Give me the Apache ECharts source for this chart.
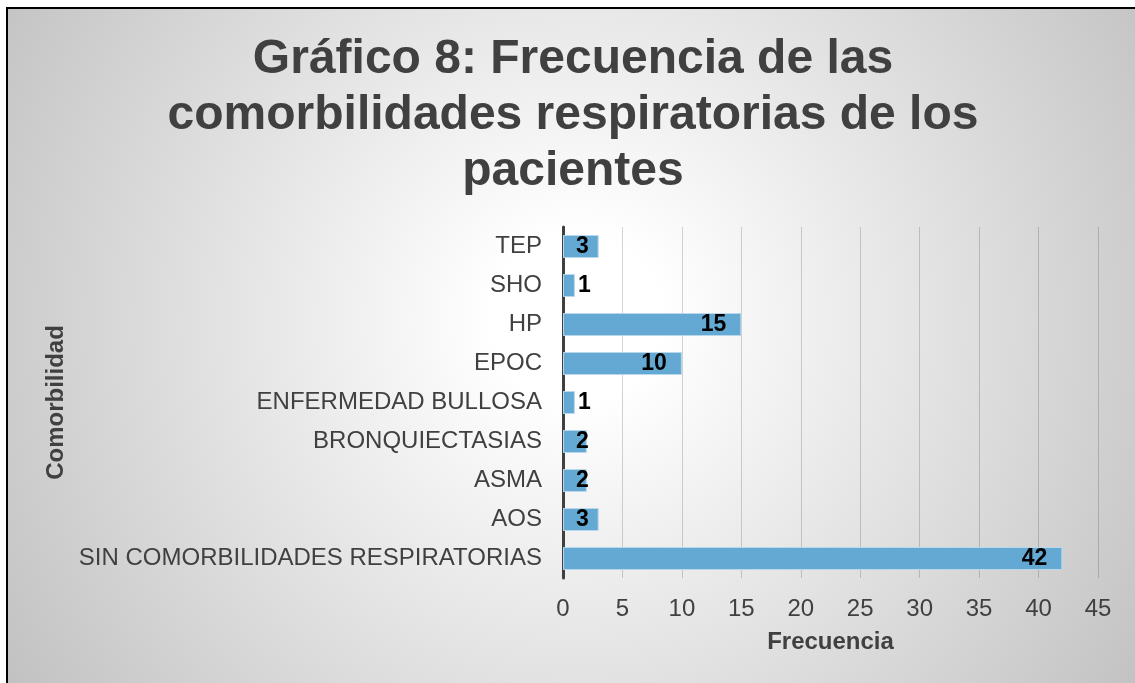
<!DOCTYPE html>
<html>
<head>
<meta charset="utf-8">
<script src="https://cdn.jsdelivr.net/npm/echarts@6/dist/echarts.min.js"></script>
<style>
  html, body { margin: 0; padding: 0; background: #fff; }
  #chart { width: 1135px; height: 683px; }
</style>
</head>
<body>
<div id="chart"></div>
<script>
// categorias de arriba hacia abajo
var categorias = ['TEP', 'SHO', 'HP', 'EPOC', 'ENFERMEDAD BULLOSA', 'BRONQUIECTASIAS', 'ASMA', 'AOS', 'SIN COMORBILIDADES RESPIRATORIAS'];
var frecuencia = [3, 1, 15, 10, 1, 2, 2, 3, 42];
var ticksX = [0, 5, 10, 15, 20, 25, 30, 35, 40, 45];

var chart = echarts.init(document.getElementById('chart'));

// etiquetas: barras pequeñas llevan el numero al inicio o fuera
var datos = frecuencia.map(function (v) {
  var item = { value: v };
  if (v <= 1) {
    item.label = { position: 'right', distance: 3 };
  } else if (v <= 3) {
    item.label = { position: 'insideLeft', distance: 13 };
  }
  return item;
});

var option = {
  backgroundColor: '#ffffff',
  textStyle: { fontFamily: 'Liberation Sans, Arial, sans-serif' },
  graphic: [{
    type: 'rect',
    z: -10,
    silent: true,
    shape: { x: 7, y: 8, width: 1140, height: 690 },
    style: {
      stroke: '#000',
      lineWidth: 2,
      fill: {
        type: 'radial', x: 0.5, y: 0.45, r: 1.0,
        colorStops: [
          { offset: 0, color: '#ffffff' },
          { offset: 0.12, color: '#ffffff' },
          { offset: 1, color: '#c0c0c0' }
        ]
      }
    }
  }],
  title: {
    text: 'Gráfico 8: Frecuencia de las\ncomorbilidades respiratorias de los\npacientes',
    left: 568,
    top: 27,
    textAlign: 'center',
    textStyle: {
      fontFamily: 'Liberation Sans, Arial, sans-serif',
      fontSize: 48,
      fontWeight: 'bold',
      color: '#404040',
      lineHeight: 56
    }
  },
  grid: {
    left: 563,
    right: 37,
    top: 227,
    bottom: 105,
    containLabel: false
  },
  xAxis: {
    type: 'value',
    min: 0,
    max: 45,
    interval: 5,
    name: 'Frecuencia',
    nameLocation: 'middle',
    nameGap: 52,
    nameTextStyle: { fontSize: 24, fontWeight: 'bold', color: '#404040' },
    axisLine: { show: false },
    axisTick: { show: false },
    axisLabel: {
      fontSize: 24,
      color: '#404040',
      margin: 19,
      formatter: function (v) { return ticksX.indexOf(v) >= 0 ? String(v) : ''; }
    },
    splitLine: { show: true, lineStyle: { color: 'rgba(0,0,0,0.17)', width: 1 } }
  },
  yAxis: {
    type: 'category',
    inverse: true,
    data: categorias,
    name: 'Comorbilidad',
    nameLocation: 'middle',
    nameGap: 495,
    nameTextStyle: { fontSize: 24, fontWeight: 'bold', color: '#404040' },
    axisLine: { show: true, lineStyle: { color: '#404040', width: 3 } },
    axisTick: { show: false },
    axisLabel: { fontSize: 24, color: '#404040', margin: 21 },
    splitLine: { show: false }
  },
  series: [{
    type: 'bar',
    data: datos,
    barWidth: 23,
    itemStyle: {
      color: '#63a9d3',
      borderColor: '#b9d8ec',
      borderWidth: 1
    },
    label: {
      show: true,
      position: 'insideRight',
      distance: 15,
      fontSize: 23,
      fontWeight: 'bold',
      color: '#000'
    }
  }]
};

chart.setOption(option);
</script>
</body>
</html>
